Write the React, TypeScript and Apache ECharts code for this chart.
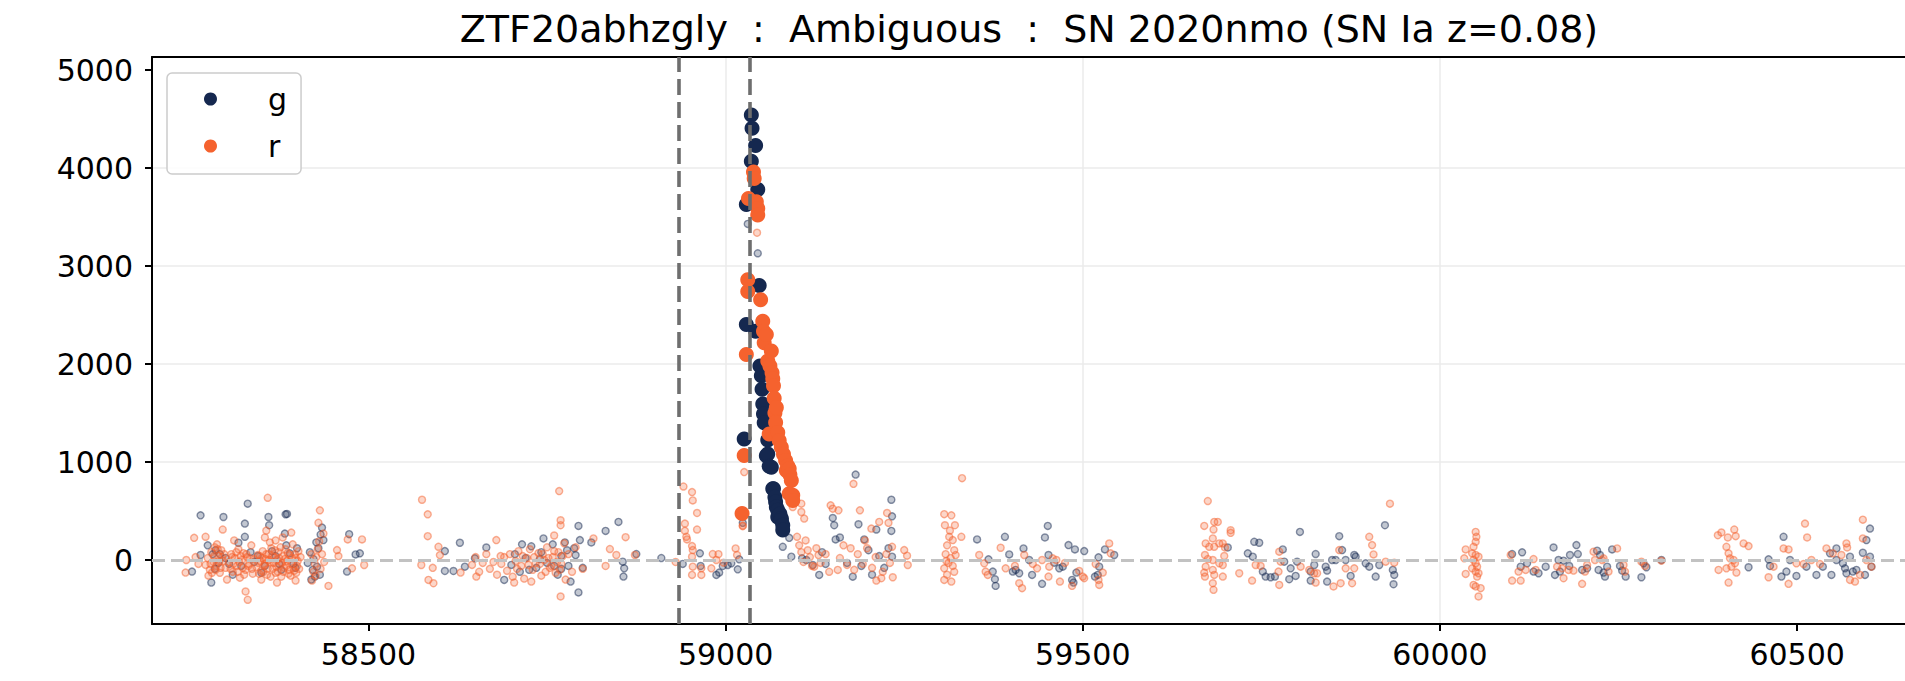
import React, { useEffect, useRef } from 'react';
import * as echarts from 'echarts';

const TITLE = 'ZTF20abhzgly  :  Ambiguous  :  SN 2020nmo (SN Ia z=0.08)';
const X_TICKS = [58500, 59000, 59500, 60000, 60500];
const Y_TICKS = [0, 1000, 2000, 3000, 4000, 5000];
const X_MIN = 58197;
const X_MAX = 60651;
const Y_MIN = -653;
const Y_MAX = 5133;
const EVENT_LINES = [58934, 59034];
const BASELINE = 0;

const G_COLOR = '#15284f';
const R_COLOR = '#f5622e';

// detections (large markers), [mjd, flux]
const gDetections = [
  [59026, 1235], [59029, 2403], [59029, 3627], [59036, 4068], [59036, 4541], [59037, 4406],
  [59042, 4230], [59045, 3780], [59042, 2335], [59047, 2802], [59048, 1980], [59050, 1880],
  [59051, 1743], [59052, 1591], [59053, 1490], [59054, 1400], [59057, 1065], [59059, 1225],
  [59059, 1083], [59061, 956], [59064, 946], [59066, 727], [59067, 728], [59069, 640],
  [59070, 592], [59071, 541], [59073, 508], [59073, 439], [59076, 470], [59078, 423],
  [59078, 405], [59080, 355], [59080, 305],
];

const rDetections = [
  [59023, 474], [59026, 1066], [59029, 2098], [59031, 2741], [59031, 2860], [59032, 3689],
  [59039, 3959], [59040, 3892], [59043, 3655], [59045, 3587], [59045, 3520], [59049, 2656],
  [59052, 2437], [59053, 2335], [59054, 2217], [59057, 2300], [59059, 2031], [59061, 1286],
  [59062, 1980], [59064, 2132], [59065, 1912], [59066, 1850], [59067, 1777], [59068, 1650],
  [59069, 1500], [59070, 1404], [59071, 1557], [59073, 1300], [59075, 1220], [59078, 1150],
  [59081, 1080], [59084, 1015], [59085, 913], [59087, 960], [59089, 931], [59089, 676],
  [59090, 870], [59092, 812], [59094, 660], [59094, 608],
];

// non-detections / faint forced photometry (small translucent markers)
const gFaint = [
  [58253, -118], [58265, 51], [58265, 456], [58275, 150], [58280, -230], [58282, 60], [58285, -90],
  [58286, 101], [58290, -30], [58292, 60], [58297, 439], [58300, 20], [58305, -40], [58310, -150],
  [58318, 176], [58322, -60], [58327, 237], [58327, 372], [58331, 575], [58335, 80], [58340, -20],
  [58345, 40], [58350, -130], [58355, -60], [58360, 439], [58361, 355], [58365, 90], [58370, 40],
  [58375, -40], [58378, -100], [58383, 270], [58384, 466], [58385, 150], [58386, 470], [58390, 68],
  [58395, -40], [58398, -80], [58400, 120], [58415, -30], [58418, 80], [58420, -200], [58422, -100],
  [58423, 10], [58425, -169], [58427, 180], [58428, -68], [58430, 120], [58432, -150], [58433, 260],
  [58435, 331], [58437, 203], [58470, -118], [58473, 264], [58482, 57], [58488, 68],
  [58607, 91], [58607, -112], [58619, -112], [58628, 176], [58635, -68], [58649, 17], [58665, 128],
  [58690, -203], [58700, -50], [58705, 60], [58712, -120], [58715, 160], [58720, 20], [58725, -100],
  [58728, 140], [58735, -80], [58740, 10], [58742, 80], [58745, 220], [58750, -30], [58758, 160],
  [58760, -60], [58765, -150], [58770, 40], [58770, -90], [58775, 180], [58778, 100], [58780, -60],
  [58783, -220], [58788, 120], [58790, 50], [58794, 348], [58794, -331], [58796, 203], [58800, -80],
  [58812, 179], [58832, 297], [58850, 389], [58856, -17], [58857, -169], [58858, -85], [58875, 61],
  [58910, 20], [58940, -40], [58964, 68], [58965, -61], [58987, -152], [58991, -128], [58996, -61],
  [59003, -51], [59008, -34], [59017, -95], [59019, 7], [59024, 379], [59031, 3430], [59045, 3130],
  [59080, 135], [59089, 226], [59092, 34], [59107, 17], [59113, 0], [59122, -51], [59131, -152],
  [59135, 80], [59140, -40], [59150, 429], [59152, 355], [59154, 210], [59160, 230], [59170, -30],
  [59178, -170], [59182, 872], [59186, 365], [59190, -60], [59194, 210], [59200, 100], [59205, -150],
  [59211, 311], [59215, 40], [59222, -80], [59228, 120], [59232, 297], [59232, 615], [59233, 446],
  [59233, 34],
  [59352, 210], [59368, 7], [59374, -118], [59377, -196], [59378, -264], [59391, 237], [59397, 57],
  [59402, -118], [59406, -101], [59411, -135], [59417, 118], [59425, 0], [59429, -152], [59443, -243],
  [59447, 230], [59451, 348], [59452, 51], [59460, -27], [59467, -85], [59472, -68], [59480, 152],
  [59485, -203], [59487, -230], [59489, 108], [59491, -128], [59502, 91], [59517, -169], [59521, -152],
  [59522, 27], [59523, -68], [59531, 108], [59544, 51],
  [59703, 128], [59731, 68], [59738, 34], [59740, 186], [59747, 176], [59752, -118], [59756, -169],
  [59763, -176], [59769, -169], [59780, 108], [59782, -17], [59789, -196], [59791, -85], [59798, -162],
  [59800, -17], [59804, 287], [59819, -118], [59819, -210], [59824, -51], [59826, 61], [59840, -68],
  [59842, -108], [59842, -220], [59849, 0], [59854, 0], [59859, 243], [59863, 101], [59868, 0],
  [59875, -162], [59880, 51], [59882, 34], [59896, -34], [59901, -68], [59910, -169], [59915, -51],
  [59923, 355], [59934, -101], [59935, -247], [59936, -152],
  [60101, 61], [60113, -68], [60115, 78], [60122, -34], [60131, -118], [60138, -135], [60148, -68],
  [60159, 128], [60161, -152], [60166, 0], [60168, -118], [60173, -7], [60181, -61], [60182, 51],
  [60191, 152], [60193, 61], [60199, -101], [60206, -85], [60220, 95], [60222, -101], [60224, 51],
  [60229, -128], [60231, -169], [60234, -68], [60241, 108], [60252, -61], [60255, -108], [60260, -169],
  [60282, -176], [60285, -34], [60289, -74], [60310, 0],
  [60432, -74], [60460, 7], [60462, -61], [60478, -169], [60481, 237], [60485, -118], [60490, 0],
  [60499, -162], [60513, -68], [60527, -152], [60536, -68], [60546, 68], [60548, -152], [60555, 118],
  [60555, 0], [60564, -34], [60567, -85], [60569, -135], [60574, 34], [60578, -118], [60583, -101],
  [60592, 74], [60595, -152], [60597, 203], [60602, 321], [60602, 34], [60604, -68],
];

const rFaint = [
  [58244, -128], [58245, 0], [58256, 226], [58258, 30], [58262, -40], [58272, -50], [58272, 237],
  [58275, 20], [58276, -160], [58278, -100], [58279, -40], [58280, 80], [58281, -130], [58283, -20],
  [58284, 40], [58285, 130], [58286, -100], [58287, -60], [58288, 160], [58289, 110], [58290, 40],
  [58291, -20], [58292, -130], [58293, -80], [58294, 100], [58295, 30], [58296, -10], [58296, 311],
  [58298, 60], [58300, -80], [58302, -200], [58305, -20], [58307, -90], [58308, 60], [58309, 30],
  [58310, -120], [58311, -40], [58312, 200], [58313, 20], [58315, 80], [58316, -60], [58317, -120],
  [58318, 110], [58319, -20], [58320, -180], [58321, 40], [58323, 0], [58324, -80], [58325, 70],
  [58326, -150], [58328, -100], [58328, -321], [58329, 60], [58330, 30], [58331, -406], [58332, -60],
  [58333, -40], [58334, 20], [58336, 150], [58337, -90], [58338, -140], [58340, 10], [58343, -70],
  [58345, 50], [58346, -30], [58347, -140], [58348, 40], [58349, -10], [58350, -110], [58350, -200],
  [58351, 20], [58352, 90], [58353, -120], [58354, -60], [58355, 230], [58355, -40], [58356, 10],
  [58357, 300], [58357, 60], [58358, -150], [58359, 635], [58359, -90], [58360, 60], [58361, 0],
  [58362, -20], [58362, 180], [58363, -170], [58364, 120], [58365, 40], [58366, -90], [58367, -30],
  [58368, 30], [58369, 100], [58370, -130], [58370, 200], [58371, -70], [58372, 0], [58372, -230],
  [58373, -120], [58374, 80], [58375, 20], [58376, -50], [58377, 130], [58378, -170], [58379, -30],
  [58380, 40], [58380, 230], [58381, -120], [58382, -80], [58383, 10], [58384, 110], [58385, -60],
  [58386, -10], [58387, 70], [58388, -140], [58389, -100], [58390, 50], [58391, -160], [58392, -40],
  [58392, 280], [58393, 20], [58394, 160], [58395, -80], [58396, -110], [58397, 60], [58398, 20],
  [58398, -210], [58399, -130], [58400, -60], [58401, -10], [58402, 90], [58403, -90], [58405, 30],
  [58420, 60], [58421, -210], [58423, -120], [58425, -40], [58426, -160], [58427, 30], [58429, 110],
  [58430, 380], [58431, 190], [58432, 507], [58433, -90], [58435, 60], [58437, 270], [58438, -20],
  [58444, -264], [58456, 101], [58458, 40], [58471, 210], [58477, -85], [58491, 210], [58494, -51],
  [58574, -51], [58575, 615], [58583, 466], [58583, 243], [58584, -203], [58590, -80], [58591, -237],
  [58598, 135], [58600, 50], [58629, -128], [58645, -50], [58650, 30], [58651, -169], [58655, -120],
  [58660, -30], [58665, 60], [58670, -90], [58675, -20], [58679, 203], [58680, -150], [58685, 40],
  [58686, -40], [58690, 30], [58694, -110], [58698, 60], [58702, -170], [58704, -230], [58706, -10],
  [58708, -90], [58710, 90], [58714, -60], [58716, 40], [58718, -190], [58722, 20], [58724, -50],
  [58726, 110], [58728, -220], [58730, -100], [58732, 30], [58734, -30], [58738, 70], [58740, -40],
  [58742, -160], [58744, 60], [58746, 0], [58748, -120], [58750, 130], [58752, 20], [58754, -80],
  [58756, -60], [58758, 30], [58760, 250], [58760, 90], [58762, -130], [58764, -20], [58766, 80],
  [58767, 703], [58768, -100], [58769, 406], [58769, 355], [58769, -372], [58770, -40], [58772, 40],
  [58774, 170], [58776, -200], [58780, 60], [58785, -120], [58790, 130], [58800, -90], [58815, 220],
  [58832, -61], [58838, 112], [58847, 51], [58860, 233], [58873, 51],
  [58930, -20], [58941, 750], [58943, 372], [58943, 298], [58945, 237], [58946, 210], [58953, 693],
  [58953, 142], [58953, 34], [58953, -152], [58954, 608], [58954, 101], [58954, -68], [58960, 480],
  [58960, 311], [58966, -85], [58966, -152], [58980, -85], [58982, 61], [58987, 0], [58990, 60],
  [58997, -27], [59014, 118], [59016, 51], [59024, 345], [59024, 352], [59026, 897], [59044, 3340],
  [59094, 541], [59100, 237], [59103, 150], [59106, 575], [59106, 490], [59106, 80], [59109, -20],
  [59110, 423], [59112, 200], [59115, 100], [59118, 30], [59121, -60], [59124, -68], [59127, 120],
  [59130, 50], [59133, -30], [59140, 60], [59145, -120], [59147, 558], [59150, 524], [59157, -101],
  [59158, 507], [59160, 20], [59165, 150], [59170, -50], [59175, 120], [59179, 777], [59180, -100],
  [59185, 60], [59188, 507], [59192, -40], [59195, 200], [59198, 120], [59204, 321], [59205, -80],
  [59210, 30], [59211, -210], [59215, 389], [59218, -186], [59220, -120], [59225, 60], [59226, 480],
  [59228, 379], [59230, -30], [59233, 135], [59234, -176], [59250, 101], [59254, 44], [59255, -51],
  [59306, 468], [59306, -85], [59306, -203], [59307, 355], [59308, 60], [59309, -10], [59310, 150],
  [59310, -150], [59312, -30], [59313, 237], [59314, 300], [59315, 20], [59316, 456], [59316, -220],
  [59318, 203], [59318, -60], [59320, 100], [59320, -120], [59321, 355], [59322, 50], [59330, 237],
  [59331, 835], [59355, 51], [59362, -34], [59364, -118], [59367, -152], [59385, 125], [59392, -85],
  [59405, -60], [59411, -237], [59415, -287], [59418, 51], [59430, -40], [59436, -85], [59443, 0],
  [59452, -169], [59453, -68], [59458, 17], [59463, 0], [59468, -220], [59475, -30], [59485, -264],
  [59495, -112], [59500, -169], [59502, -186], [59518, -41], [59522, -203], [59523, -254], [59528, -128],
  [59537, 169], [59539, 68],
  [59670, 348], [59670, -128], [59671, 51], [59671, -169], [59672, 169], [59672, -68], [59675, 602],
  [59675, 10], [59677, 135], [59682, 220], [59682, 0], [59682, -101], [59682, -237], [59683, 311],
  [59683, -304], [59684, 389], [59684, 135], [59684, -152], [59689, 389], [59691, 169], [59691, -34],
  [59696, 169], [59696, -51], [59696, -169], [59698, 41], [59699, 128], [59707, 304], [59707, 277],
  [59719, -135], [59737, -210], [59742, -51], [59749, -61], [59774, -118], [59775, 85], [59775, -254],
  [59777, -17], [59805, -68], [59817, -101], [59824, -135], [59826, -230], [59828, -135], [59851, -270],
  [59859, 101], [59861, -237], [59868, -85], [59877, -237], [59880, -85], [59901, 237], [59905, 152],
  [59907, 57], [59924, -17], [59930, 575], [59936, -27],
  [60034, 17], [60036, 108], [60036, -142], [60045, 68], [60045, -85], [60047, 135], [60047, 0],
  [60047, -254], [60050, 287], [60050, 186], [60050, 51], [60050, -34], [60050, -118], [60050, -270],
  [60051, 237], [60052, -68], [60052, -169], [60054, 34], [60054, -135], [60054, -372], [60057, -287],
  [60099, 51], [60101, -210], [60110, -118], [60113, -210], [60120, -101], [60131, 10], [60134, -101],
  [60164, -68], [60171, -85], [60173, -186], [60180, -101], [60187, -108], [60199, -243], [60203, -118],
  [60206, -51], [60215, 85], [60217, 0], [60227, 0], [60229, 17], [60236, -118], [60248, 118],
  [60257, -51], [60259, -118], [60282, -17], [60287, -61], [60310, -7],
  [60389, 253], [60390, -101], [60394, 281], [60401, 135], [60401, -85], [60403, 230], [60404, 68],
  [60404, -230], [60406, 17], [60408, -68], [60411, 0], [60412, 311], [60413, -34], [60414, 243],
  [60415, -128], [60425, 169], [60432, 142], [60460, -176], [60467, -68], [60481, 118], [60488, 108],
  [60488, -243], [60499, -34], [60509, -41], [60511, 372], [60514, 230], [60520, 0], [60532, -41],
  [60541, 118], [60550, 68], [60562, 51], [60569, 169], [60570, 128], [60574, -203], [60581, -220],
  [60588, -152], [60592, 412], [60592, 220], [60597, 0], [60604, -68],
];

const FONT = 'DejaVu Sans';

export default function App() {
  const ref = useRef<HTMLDivElement>(null);
  useEffect(() => {
    if (!ref.current) return;
    const chart = echarts.init(ref.current, null, { renderer: 'svg' });
    const faint = (c: string) => ({
      color: `rgba(${c},0.26)`,
      borderColor: `rgba(${c},0.5)`,
      borderWidth: 1.4,
      opacity: 1,
    });
    chart.setOption({
      animation: false,
      backgroundColor: '#ffffff',
      title: {
        text: TITLE,
        left: 1024,
        top: 5,
        textAlign: 'center',
        textStyle: { fontFamily: FONT, fontSize: 38, fontWeight: 'normal', color: '#000' },
      },
      legend: {
        data: ['g', 'r'],
        orient: 'vertical',
        left: 167,
        top: 73,
        padding: [11, 14, 13, 37],
        itemGap: 17,
        itemWidth: 13,
        itemHeight: 13,
        icon: 'circle',
        selectedMode: false,
        backgroundColor: 'rgba(255,255,255,0.85)',
        borderColor: '#cccccc',
        borderWidth: 1.5,
        borderRadius: 5,
        textStyle: { fontFamily: FONT, fontSize: 30, color: '#000', lineHeight: 30, padding: [0, 0, 0, 46] },
      },
      grid: { left: 152, right: 0, top: 57, bottom: 57 },
      xAxis: [
        {
          type: 'value',
          min: X_MIN,
          max: X_MAX,
          axisLine: { onZero: false, lineStyle: { color: '#000', width: 2 } },
          axisTick: { length: 7, lineStyle: { color: '#000', width: 2 }, customValues: X_TICKS },
          axisLabel: {
            customValues: X_TICKS,
            margin: 15,
            fontSize: 30,
            fontFamily: FONT,
            color: '#000',
            formatter: (v: number) => String(v),
          },
          splitLine: { show: true, showMinLine: false, showMaxLine: false, lineStyle: { color: '#ebebeb', width: 1.5 } },
        },
        {
          type: 'value',
          position: 'top',
          min: X_MIN,
          max: X_MAX,
          axisLine: { show: true, onZero: false, lineStyle: { color: '#000', width: 2 } },
          axisTick: { show: false },
          axisLabel: { show: false },
          splitLine: { show: false },
        },
      ],
      yAxis: {
        type: 'value',
        min: Y_MIN,
        max: Y_MAX,
        axisLine: { show: true, onZero: false, lineStyle: { color: '#000', width: 2 } },
        axisTick: { show: true, length: 7, lineStyle: { color: '#000', width: 2 }, customValues: Y_TICKS },
        axisLabel: {
          customValues: Y_TICKS,
          margin: 19,
          fontSize: 30,
          fontFamily: FONT,
          color: '#000',
          formatter: (v: number) => String(v),
        },
        splitLine: { show: true, showMinLine: false, showMaxLine: false, lineStyle: { color: '#ebebeb', width: 1.5 } },
      },
      series: [
        {
          name: 'lines',
          type: 'scatter',
          data: [],
          z: 1,
          silent: true,
          markLine: {
            silent: true,
            symbol: ['none', 'none'],
            label: { show: false },
            emphasis: { disabled: true },
            data: [
              { yAxis: BASELINE, lineStyle: { color: '#c2c2c2', width: 3.2, type: [13, 6] } },
              ...EVENT_LINES.map((x) => ({ xAxis: x, lineStyle: { color: '#6e6e6e', width: 3.6, type: [16, 7] } })),
            ],
          },
        },
        {
          name: 'g faint',
          type: 'scatter',
          data: gFaint,
          z: 2,
          symbolSize: 7,
          itemStyle: faint('21,40,79'),
          emphasis: { disabled: true },
        },
        {
          name: 'r faint',
          type: 'scatter',
          data: rFaint,
          z: 2,
          symbolSize: 7,
          itemStyle: faint('245,98,46'),
          emphasis: { disabled: true },
        },
        {
          name: 'g',
          type: 'scatter',
          data: gDetections,
          z: 3,
          symbolSize: 15,
          itemStyle: { color: G_COLOR, opacity: 1 },
          emphasis: { disabled: true },
        },
        {
          name: 'r',
          type: 'scatter',
          data: rDetections,
          z: 3,
          symbolSize: 15,
          itemStyle: { color: R_COLOR, opacity: 1 },
          emphasis: { disabled: true },
        },
      ],
    });
    return () => chart.dispose();
  }, []);
  return <div ref={ref} style={{ position: 'fixed', left: 0, top: 0, width: 1905, height: 681 }} />;
}
